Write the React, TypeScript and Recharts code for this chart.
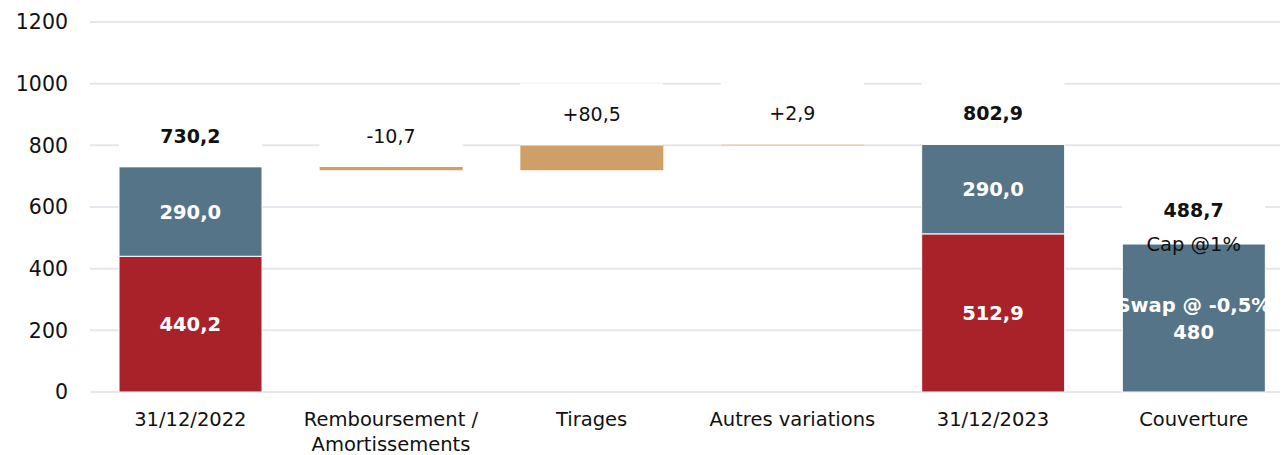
import React from "react";
import { ComposedChart, Bar, Line, XAxis, YAxis, CartesianGrid, LabelList } from "recharts";

const categories = [
  "31/12/2022",
  "Remboursement /\nAmortissements",
  "Tirages",
  "Autres variations",
  "31/12/2023",
  "Couverture",
];
// encours taux fixe (rouge) / taux variable (bleu)
const fixedRate = [440.2, 0, 0, 0, 512.9, 0];
const variableRate = [290.0, 0, 0, 0, 290.0, 480];
const movements = [0, -10.7, 80.5, 2.9, 0, 0];
const capAmount = [0, 0, 0, 0, 0, 8.7];
const topLabels = ["730,2", "-10,7", "+80,5", "+2,9", "802,9", "488,7"];
const totalColumns = [true, false, false, false, true, true];
const capLabels = ["", "", "", "", "", "Cap @1%"];
const variableLabels = ["290,0", "", "", "", "290,0", "Swap @ -0,5%\n480"];
const fixedLabels = ["440,2", "", "", "", "512,9", ""];
const yTicks = [0, 200, 400, 600, 800, 1000, 1200];

const FONT = "'DejaVu Sans', sans-serif";
const BAR = 143;

// waterfall: running total gives the invisible base of each movement
let running = 0;
const data = categories.map((name, i) => {
  const mv = movements[i];
  let base = 0;
  if (mv !== 0) {
    base = mv < 0 ? running + mv : running;
    running += mv;
  } else {
    running = fixedRate[i] + variableRate[i];
  }
  const top = base + fixedRate[i] + variableRate[i] + Math.abs(mv) + capAmount[i];
  return {
    name,
    base,
    fixed: fixedRate[i],
    variable: variableRate[i],
    move: Math.abs(mv),
    cap: capAmount[i],
    top,
    topText: topLabels[i],
    fixedMid: fixedRate[i] / 2,
    fixedText: fixedLabels[i],
    variableMid: fixedRate[i] + variableRate[i] / 2,
    variableText: variableLabels[i],
    capMid: top - capAmount[i],
    capText: capLabels[i],
  };
});

const TopLabel = (props: any) => {
  const { x, y, value } = props;
  if (!value) return null;
  const bold = totalColumns[topLabels.indexOf(value)];
  return (
    <g>
      <rect x={x - BAR / 2} y={y - 62} width={BAR} height={62} fill="#fff" />
      <text
        x={x}
        y={y - 31}
        textAnchor="middle"
        dominantBaseline="central"
        fontFamily={FONT}
        fontSize={19}
        fontWeight={bold ? 700 : 400}
        fill="#111"
      >
        {value}
      </text>
    </g>
  );
};

const PlainLabel = (props: any) => {
  const { x, y, value } = props;
  if (!value) return null;
  return (
    <text x={x} y={y} textAnchor="middle" dominantBaseline="central" fontFamily={FONT} fontSize={19.5} fill="#111">
      {value}
    </text>
  );
};

const InsideLabel = (props: any) => {
  const { x, y, value } = props;
  if (!value) return null;
  const lines = String(value).split("\n");
  const start = y - ((lines.length - 1) * 27) / 2;
  return (
    <text textAnchor="middle" dominantBaseline="central" fontFamily={FONT} fontSize={19.5} fontWeight={700} fill="#fff">
      {lines.map((l, k) => (
        <tspan key={k} x={x} y={start + k * 27}>
          {l}
        </tspan>
      ))}
    </text>
  );
};

const XTick = (props: any) => {
  const { x, y, payload } = props;
  const lines = String(payload.value).split("\n");
  return (
    <text textAnchor="middle" fontFamily={FONT} fontSize={19.5} fill="#111">
      {lines.map((l, k) => (
        <tspan key={k} x={x} y={y + 34 + k * 25}>
          {l}
        </tspan>
      ))}
    </text>
  );
};

const hiddenLine = (key: string, textKey: string, content: any) => (
  <Line
    dataKey={key}
    stroke="none"
    dot={false}
    activeDot={false}
    legendType="none"
    isAnimationActive={false}
  >
    <LabelList dataKey={textKey} content={content} />
  </Line>
);

const App = () => {
  return (
    <ComposedChart
      width={1286}
      height={447}
      data={data}
      margin={{ top: 14, right: 0, bottom: 0, left: 0 }}
      barSize={BAR}
    >
      <CartesianGrid vertical={false} stroke="#E6E6EC" strokeWidth={2} />
      <XAxis
        dataKey="name"
        height={63}
        axisLine={false}
        tickLine={false}
        tickSize={0}
        tickMargin={0}
        interval={0}
        tick={<XTick />}
      />
      <YAxis
        width={82}
        domain={[0, 1200]}
        ticks={yTicks}
        axisLine={false}
        tickLine={false}
        tickSize={0}
        tickMargin={22}
        tick={{ fontFamily: FONT, fontSize: 20.5, fill: "#111" }}
      />
      <Bar dataKey="base" stackId="a" fill="transparent" isAnimationActive={false} />
      <Bar dataKey="fixed" stackId="a" fill="#AA2229" stroke="#fff" strokeWidth={1} isAnimationActive={false} />
      <Bar dataKey="variable" stackId="a" fill="#567488" stroke="#fff" strokeWidth={1} isAnimationActive={false} />
      <Bar dataKey="move" stackId="a" fill="#CE9F67" isAnimationActive={false} />
      <Bar dataKey="cap" stackId="a" fill="transparent" isAnimationActive={false} />
      {hiddenLine("top", "topText", <TopLabel />)}
      {hiddenLine("fixedMid", "fixedText", <InsideLabel />)}
      {hiddenLine("variableMid", "variableText", <InsideLabel />)}
      {hiddenLine("capMid", "capText", <PlainLabel />)}
    </ComposedChart>
  );
};

export default App;
